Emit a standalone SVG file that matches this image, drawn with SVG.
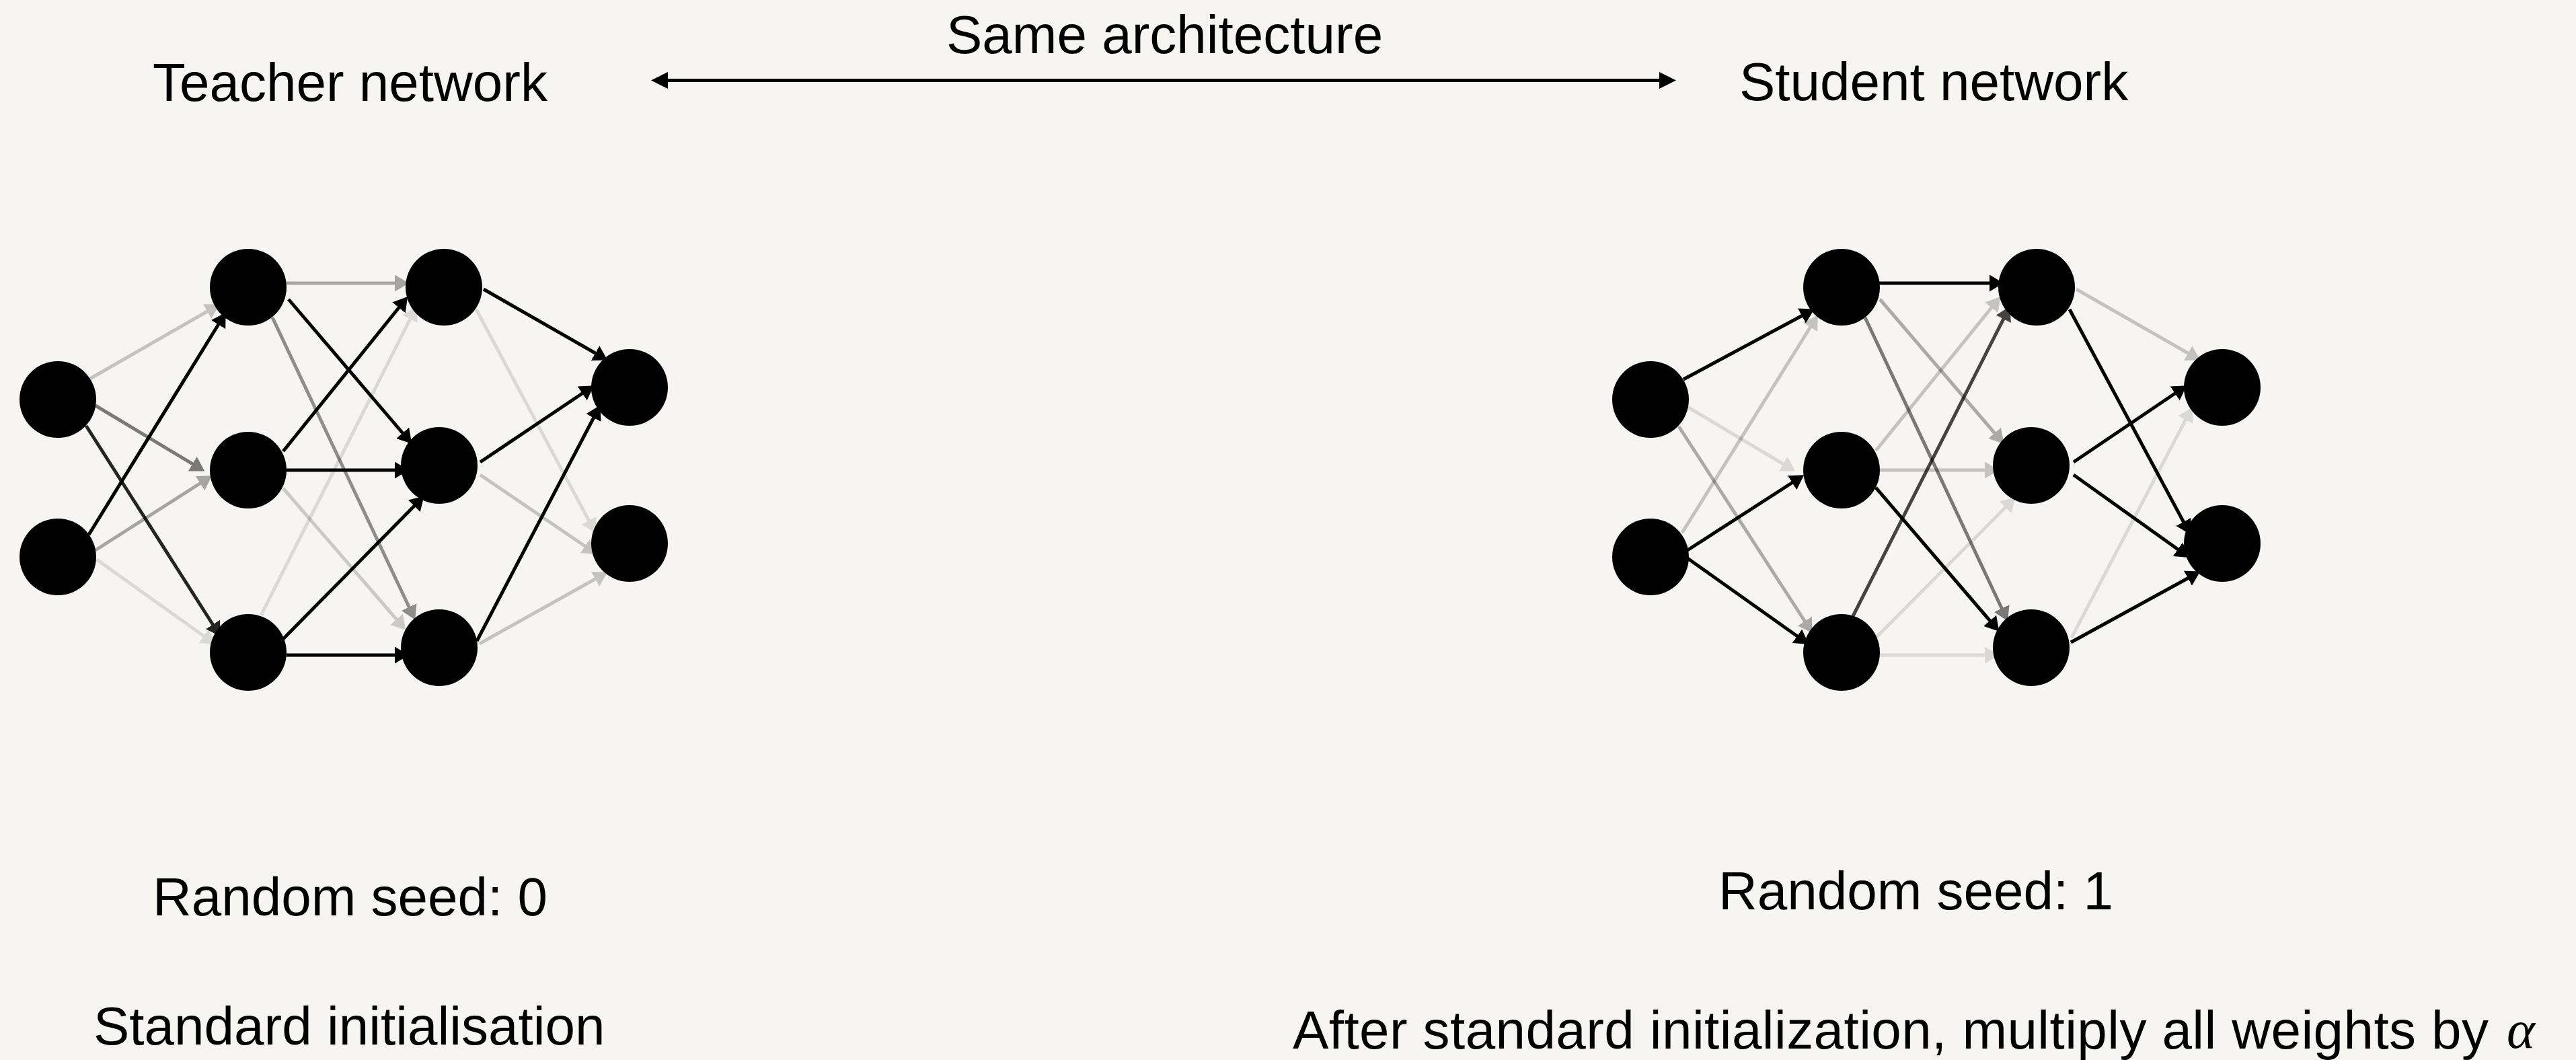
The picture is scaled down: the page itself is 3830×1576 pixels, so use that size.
<svg xmlns="http://www.w3.org/2000/svg" width="3830" height="1576" viewBox="0 0 3830 1576">
<style>
text{font-family:"Liberation Sans",Arial,sans-serif;font-size:80px;fill:#000}
.n{fill:#000}
.e line{stroke:#000;stroke-width:5;marker-end:url(#ah)}
</style>
<defs>
<marker id="ah" markerUnits="userSpaceOnUse" viewBox="0 0 21 25" markerWidth="21" markerHeight="25" refX="16" refY="12.5" orient="auto"><path d="M0,0L21,12.5L0,25z" fill="#000"/></marker>
<marker id="ah2" markerUnits="userSpaceOnUse" viewBox="0 0 25 25" markerWidth="25" markerHeight="25" refX="20" refY="12.5" orient="auto-start-reverse"><path d="M0,0L25,12.5L0,25z" fill="#000"/></marker>
</defs>
<rect width="3830" height="1576" fill="#f6f5f1"/>
<g id="labels">
<text x="1407" y="79">Same architecture</text>
<text x="227" y="150">Teacher network</text>
<text x="2586" y="149">Student network</text>
<text x="227" y="1361">Random seed: 0</text>
<text x="2555" y="1352">Random seed: 1</text>
<text x="139" y="1553">Standard initialisation</text>
<text x="1922" y="1559" textLength="1778" lengthAdjust="spacing">After standard initialization, multiply all weights by</text>
<text x="3727" y="1558" style="font-family:'Liberation Serif','DejaVu Serif',serif;font-style:italic">α</text>
</g>
<g id="connectors">
<line x1="973" y1="119.5" x2="2487" y2="119.5" stroke="#000" stroke-width="5" marker-start="url(#ah2)" marker-end="url(#ah2)"/>
<g id="teacher-edges" class="e">
<line x1="134" y1="563" x2="322" y2="455" opacity=".2"/>
<line x1="142" y1="603" x2="300" y2="698" opacity=".5"/>
<line x1="128" y1="633" x2="325" y2="942" opacity=".85"/>
<line x1="132" y1="795" x2="333" y2="469"/>
<line x1="142" y1="818" x2="311" y2="710" opacity=".32"/>
<line x1="144" y1="832" x2="316" y2="955" opacity=".11"/>
<line x1="426" y1="421" x2="603" y2="421" opacity=".32"/>
<line x1="429" y1="445" x2="609" y2="656"/>
<line x1="405" y1="472" x2="615" y2="917" opacity=".42"/>
<line x1="421" y1="671" x2="603" y2="445"/>
<line x1="426" y1="699" x2="603" y2="699"/>
<line x1="421" y1="726" x2="600" y2="933" opacity=".17"/>
<line x1="388" y1="915" x2="617" y2="460" opacity=".11"/>
<line x1="421" y1="950" x2="627" y2="741"/>
<line x1="426" y1="974" x2="603" y2="974"/>
<line x1="719" y1="430" x2="899" y2="533"/>
<line x1="708" y1="460" x2="883" y2="788" opacity=".11"/>
<line x1="714" y1="687" x2="879" y2="576"/>
<line x1="714" y1="706" x2="883" y2="821" opacity=".2"/>
<line x1="709" y1="953" x2="890" y2="607"/>
<line x1="713" y1="957" x2="899" y2="853" opacity=".2"/>
</g>
<g id="student-edges" class="e">
<line x1="2503" y1="564" x2="2693" y2="462"/>
<line x1="2509" y1="605" x2="2665" y2="698" opacity=".11"/>
<line x1="2496" y1="634" x2="2692" y2="937" opacity=".3"/>
<line x1="2501" y1="792" x2="2700" y2="473" opacity=".2"/>
<line x1="2509" y1="818" x2="2678" y2="709"/>
<line x1="2509" y1="830" x2="2685" y2="955"/>
<line x1="2793" y1="421" x2="2974" y2="421"/>
<line x1="2795" y1="445" x2="2976" y2="656" opacity=".3"/>
<line x1="2773" y1="472" x2="2983" y2="919" opacity=".5"/>
<line x1="2789" y1="670" x2="2971" y2="445" opacity=".2"/>
<line x1="2793" y1="699" x2="2967" y2="699" opacity=".2"/>
<line x1="2789" y1="725" x2="2969" y2="935"/>
<line x1="2755" y1="916" x2="2986" y2="460" opacity=".72"/>
<line x1="2789" y1="948" x2="2993" y2="743" opacity=".11"/>
<line x1="2793" y1="974" x2="2967" y2="974" opacity=".11"/>
<line x1="3087" y1="430" x2="3267" y2="533" opacity=".2"/>
<line x1="3077" y1="460" x2="3254" y2="790"/>
<line x1="3083" y1="687" x2="3247" y2="576"/>
<line x1="3083" y1="706" x2="3251" y2="826"/>
<line x1="3080" y1="948" x2="3257" y2="610" opacity=".11"/>
<line x1="3079" y1="955" x2="3267" y2="852"/>
</g>
</g>
<g id="teacher">
<g id="t-in1"><circle class="n" cx="86" cy="594" r="57"/></g>
<g id="t-in2"><circle class="n" cx="86" cy="828" r="57"/></g>
<g id="t-h1a"><circle class="n" cx="369" cy="427" r="57"/></g>
<g id="t-h1b"><circle class="n" cx="369" cy="699" r="57"/></g>
<g id="t-h1c"><circle class="n" cx="369" cy="970" r="57"/></g>
<g id="t-h2a"><circle class="n" cx="660" cy="427" r="57"/></g>
<g id="t-h2b"><circle class="n" cx="653" cy="692" r="57"/></g>
<g id="t-h2c"><circle class="n" cx="653" cy="963" r="57"/></g>
<g id="t-out1"><circle class="n" cx="936" cy="576" r="57"/></g>
<g id="t-out2"><circle class="n" cx="936" cy="808" r="57"/></g>
</g>
<g id="student">
<g id="s-in1"><circle class="n" cx="2454" cy="594" r="57"/></g>
<g id="s-in2"><circle class="n" cx="2454" cy="828" r="57"/></g>
<g id="s-h1a"><circle class="n" cx="2738" cy="427" r="57"/></g>
<g id="s-h1b"><circle class="n" cx="2738" cy="699" r="57"/></g>
<g id="s-h1c"><circle class="n" cx="2738" cy="970" r="57"/></g>
<g id="s-h2a"><circle class="n" cx="3028" cy="427" r="57"/></g>
<g id="s-h2b"><circle class="n" cx="3020" cy="692" r="57"/></g>
<g id="s-h2c"><circle class="n" cx="3020" cy="963" r="57"/></g>
<g id="s-out1"><circle class="n" cx="3304" cy="576" r="57"/></g>
<g id="s-out2"><circle class="n" cx="3304" cy="808" r="57"/></g>
</g>
</svg>
